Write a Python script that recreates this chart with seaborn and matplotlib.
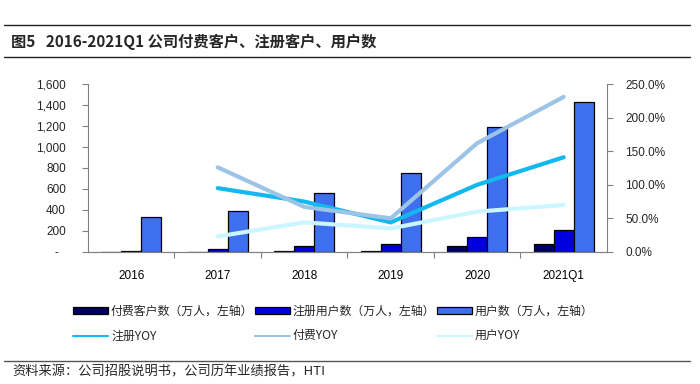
import numpy as np
import pandas as pd
import seaborn as sns
import matplotlib.pyplot as plt
from matplotlib.lines import Line2D
from matplotlib.ticker import FuncFormatter, FixedLocator

periods = ['2016', '2017', '2018', '2019', '2020', '2021Q1']
paid = [0, 0, 10, 5, 55, 80]
registered = [10, 28, 55, 80, 145, 205]
users = [330, 390, 565, 750, 1190, 1430]
reg_yoy = [np.nan, 0.95, 0.75, 0.44, 1.00, 1.41]
paid_yoy = [np.nan, 1.26, 0.67, 0.50, 1.62, 2.31]
user_yoy = [np.nan, 0.23, 0.44, 0.35, 0.60, 0.70]

bar_names = ['付费客户数（万人，左轴）', '注册用户数（万人，左轴）', '用户数（万人，左轴）']
line_names = ['注册YOY', '付费YOY', '用户YOY']
bar_colors = ['#00005E', '#0000DD', '#3D6FEF']
line_colors = ['#12B8EE', '#9DC3E6', '#CCF6FF']

sns.set_theme(style='white')
plt.rcParams['font.family'] = ['Liberation Sans', 'Noto Sans CJK SC', 'DejaVu Sans']
cjk = ['Noto Sans CJK SC', 'DejaVu Sans']

df = pd.DataFrame({
    'period': periods * 3,
    'value': paid + registered + users,
    'series': [n for n in bar_names for _ in periods],
})

fig = plt.figure(figsize=(7, 3.84), dpi=100)
ax = fig.add_axes([0.1257, 0.344, 0.7414, 0.437])
sns.barplot(data=df, x='period', y='value', hue='series', order=periods,
            hue_order=bar_names, palette=bar_colors, width=0.69,
            edgecolor='black', linewidth=0.9, saturation=1, ax=ax, legend=False)

ax2 = ax.twinx()
xpos = np.arange(len(periods))
for vals, name, col in zip([reg_yoy, paid_yoy, user_yoy], line_names, line_colors):
    sns.lineplot(x=xpos, y=vals, color=col, linewidth=3, ax=ax2, label=name, legend=False)

ax.set_xlim(-0.5, len(periods) - 0.5)
ax.set_ylim(0, 1600)
ax2.set_ylim(0, 2.5)
ax.set_yticks(np.arange(0, 1601, 200))
ax2.set_yticks(np.arange(0, 2.51, 0.5))
ax.yaxis.set_major_formatter(FuncFormatter(lambda v, p: '-  ' if v == 0 else f'{v:,.0f}'))
ax2.yaxis.set_major_formatter(FuncFormatter(lambda v, p: f'{v:.1%}'))
ax.set_xlabel('')
ax.set_ylabel('')
ax2.set_ylabel('')

ax.xaxis.set_minor_locator(FixedLocator(np.arange(0.5, len(periods) - 0.5, 1)))
ax.tick_params(axis='x', which='major', length=0, pad=13, labelsize=8.5, colors='black')
ax.tick_params(axis='x', which='minor', length=4, width=0.8, color='#808080', bottom=True)
ax.tick_params(axis='y', length=4, width=0.8, color='#808080', pad=12, labelsize=8.5, left=True)
ax2.tick_params(axis='y', length=4, width=0.8, color='#808080', pad=9, labelsize=8.5, right=True)

for a in (ax, ax2):
    a.spines['top'].set_visible(False)
    for s in ('left', 'right', 'bottom'):
        a.spines[s].set_color('#808080')
        a.spines[s].set_linewidth(0.8)
ax.spines['right'].set_visible(False)
ax2.spines['left'].set_visible(False)

hb = [plt.Rectangle((0, 0), 1, 1, facecolor=c, edgecolor='black', linewidth=0.9) for c in bar_colors]
hl = [Line2D([0], [0], color=c, linewidth=1.5) for c in line_colors]
handles = [hb[0], hl[0], hb[1], hl[1], hb[2], hl[2]]
labels = [bar_names[0], line_names[0], bar_names[1], line_names[1], bar_names[2], line_names[2]]
fig.legend(handles, labels, ncol=3, loc='upper left', bbox_to_anchor=(0.098, 0.218),
           frameon=False, prop={'family': cjk, 'size': 8.6}, handlelength=2.9,
           handleheight=0.55, handletextpad=0.25, columnspacing=0.15, labelspacing=0.95,
           borderaxespad=0)

fig.add_artist(Line2D([0.005, 0.985], [0.935, 0.935], transform=fig.transFigure, color='#222222', linewidth=1))
fig.add_artist(Line2D([0.005, 0.985], [0.852, 0.852], transform=fig.transFigure, color='#222222', linewidth=1))
fig.add_artist(Line2D([0.005, 0.985], [0.06, 0.06], transform=fig.transFigure, color='#555555', linewidth=1))
fig.text(0.016, 0.891, '图5   2016-2021Q1 公司付费客户、注册客户、用户数', family=cjk,
         fontsize=11, fontweight='bold', va='center', ha='left')
fig.text(0.017, 0.031, '资料来源：公司招股说明书，公司历年业绩报告，HTI', family=cjk,
         fontsize=9.5, va='center', ha='left')

fig.savefig('out.png', dpi=100)
